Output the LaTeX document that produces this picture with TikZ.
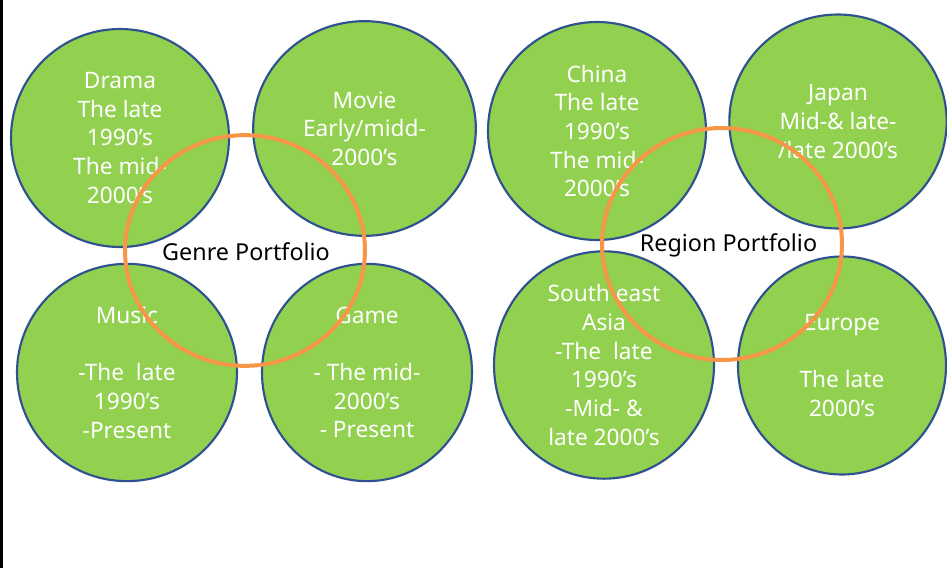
\documentclass[tikz,border=0pt]{standalone}
\usepackage{fontspec}
\setmainfont{Noto Sans}
\usetikzlibrary{shapes.geometric}
\definecolor{leaf}{HTML}{92D050}
\definecolor{rim}{HTML}{2F528F}
\definecolor{ring}{HTML}{F79646}
\begin{document}
\begin{tikzpicture}[x=0.75pt,y=-0.75pt,
  bubble/.style={ellipse,draw=rim,line width=1.6pt,fill=leaf,inner sep=0pt,
    text=white,align=center,font=\fontsize{17}{21.5}\selectfont},
  hoop/.style={ellipse,draw=ring,line width=3pt,inner sep=0pt},
  caption/.style={font=\fontsize{17.5}{20}\selectfont,text=black}]
\useasboundingbox (0,0) rectangle (947,568);
\fill[white] (0,0) rectangle (947,568);
\fill[black] (0,0) rectangle (2.5,568);
% genre bubbles
\node[bubble,minimum width=163.5pt,minimum height=163.5pt] (drama) at (120,138)
  {Drama\\The late\\1990’s\\The mid-\\2000’s};
\node[bubble,minimum width=167pt,minimum height=161pt] (movie) at (364.5,128.5)
  {Movie\\Early/midd-\\2000’s};
\node[bubble,minimum width=165pt,minimum height=163pt] (music) at (127,372.5)
  {Music\\\mbox{}\\-The\ \ late\\1990’s\\-Present};
\node[bubble,minimum width=157.5pt,minimum height=163pt] (game) at (367,372.5)
  {Game\\\mbox{}\\- The mid-\\2000’s\\- Present};
% region bubbles
\node[bubble,minimum width=163.5pt,minimum height=163.5pt] (china) at (597,131)
  {China\\The late\\1990’s\\The mid-\\2000’s};
\node[bubble,minimum width=163pt,minimum height=160.5pt] (japan) at (838,121.5)
  {Japan\\Mid-\& late-\\/late 2000’s};
\node[bubble,minimum width=165pt,minimum height=163.5pt] (seasia) at (604,365)
  {South east\\Asia\\-The\ \ late\\1990’s\\-Mid- \&\\late 2000’s};
\node[bubble,minimum width=156pt,minimum height=163.5pt] (europe) at (842,365.5)
  {Europe\\\mbox{}\\The late\\2000’s};
% portfolio rings
\node[hoop,minimum width=180pt,minimum height=173pt] (genre) at (245,250.5) {};
\node[hoop,minimum width=180pt,minimum height=174pt] (region) at (722,244) {};
\node[caption] (genrelabel) at (246,252) {Genre Portfolio};
\node[caption] (regionlabel) at (728.5,245) {Region Portfolio};
\end{tikzpicture}
\end{document}
